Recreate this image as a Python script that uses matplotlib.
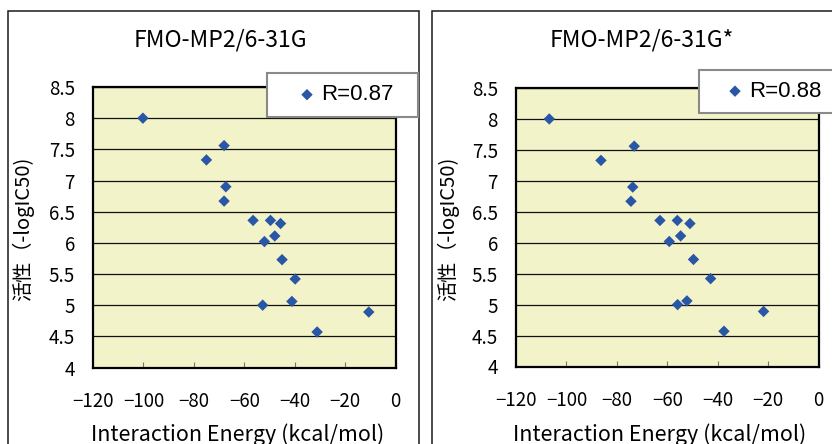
import matplotlib
matplotlib.use("Agg")
import matplotlib.pyplot as plt
from matplotlib.patches import Rectangle

plt.rcParams['font.family'] = ['Noto Sans CJK JP', 'DejaVu Sans']

# -logIC50 for the 16 compounds
activity = [8.0, 7.56, 7.33, 6.9, 6.67, 6.36, 6.36, 6.31, 6.11, 6.02, 5.73, 5.42, 5.0, 5.06, 4.89, 4.57]
# interaction energies (kcal/mol)
energy_631g = [-100.2, -68.0, -75.0, -67.3, -68.0, -56.5, -49.6, -45.6, -47.9, -52.0, -45.0, -39.8, -52.7, -41.1, -10.6, -31.1]
energy_631gs = [-106.8, -73.1, -86.3, -73.7, -74.4, -62.9, -56.0, -51.0, -54.7, -59.2, -49.6, -42.8, -55.9, -52.2, -21.8, -37.5]

titles = ["FMO-MP2/6-31G", "FMO-MP2/6-31G*"]
r_labels = ["R=0.87", "R=0.88"]
xticks = [-120, -100, -80, -60, -40, -20, 0]
yticks = [4, 4.5, 5, 5.5, 6, 6.5, 7, 7.5, 8, 8.5]
ytick_labels = ["4", "4.5", "5", "5.5", "6", "6.5", "7", "7.5", "8", "8.5"]

W, H = 832, 444
fig = plt.figure(figsize=(W / 100, H / 100), dpi=100)

def fx(px):
    return px / W

def fy(py):
    return 1 - py / H

panels = [
    # plot box (left, top, right, bottom), outer box left/right, title x, ylabel x, xlabel x, legend box
    dict(ax=(93, 87, 395.5, 367.5), outer=(8, 419), title_x=220, ylab_x=23, xlab_x=238,
         leg=(267, 73, 418, 117), leg_x=287, data=energy_631g),
    dict(ax=(516, 88, 818.5, 366.5), outer=(432, 850), title_x=642, ylab_x=448, xlab_x=660,
         leg=(699, 70, 850, 113), leg_x=715, data=energy_631gs),
]

for i, p in enumerate(panels):
    # outer frame of each chart
    o = p['outer']
    fig.add_artist(Rectangle((fx(o[0]), -0.1), fx(o[1] - o[0]), fy(11) + 0.1,
                             transform=fig.transFigure, fill=False, ec='#1a1a1a', lw=1.1,
                             clip_on=False, zorder=1))

    l, t, r, b = p['ax']
    ax = fig.add_axes([fx(l), fy(b), fx(r - l), (b - t) / H])
    ax.set_facecolor('#F3F3C9')
    sc = ax.scatter(p['data'], activity, marker='D', s=34, color='#2A56A6',
                    edgecolors='none', zorder=3, label=r_labels[i])
    ax.set_xlim(-120, 0)
    ax.set_ylim(4, 8.5)
    ax.set_xticks(xticks)
    ax.set_yticks(yticks)
    ax.set_yticklabels(ytick_labels)
    ax.yaxis.grid(True, color='#111111', lw=0.9)
    ax.set_axisbelow(True)
    for s in ax.spines.values():
        s.set_linewidth(1.6)
        s.set_color('black')
    ax.tick_params(axis='x', direction='in', length=4, width=0.8, color='#777777',
                   labelsize=13.5, pad=17)
    ax.tick_params(axis='y', length=0, labelsize=13.5, pad=13)

    fig.text(fx(p['title_x']), fy(40), titles[i], ha='center', va='center', fontsize=16.5)
    fig.text(fx(p['ylab_x']), fy(229), "活性（-logIC50)", rotation=90,
             ha='center', va='center', fontsize=14.5)
    fig.text(fx(p['xlab_x']), fy(435), "Interaction Energy (kcal/mol)",
             ha='center', va='center', fontsize=15.5)

    # legend box
    ll, lt, lr, lb = p['leg']
    fig.add_artist(Rectangle((fx(ll), fy(lb)), fx(lr - ll), (lb - lt) / H,
                             transform=fig.transFigure, fc='white', ec='#8a8a8a', lw=1.5,
                             clip_on=False, zorder=4))
    leg = fig.legend(handles=[sc], labels=[r_labels[i]], loc='center left',
                     bbox_to_anchor=(fx(p['leg_x']), fy((lt + lb) / 2)),
                     frameon=False, handlelength=0.8, handletextpad=0.25, borderpad=0,
                     prop={'family': 'Liberation Sans', 'size': 16})
    leg.set_zorder(6)

fig.savefig('out.png', dpi=100)
